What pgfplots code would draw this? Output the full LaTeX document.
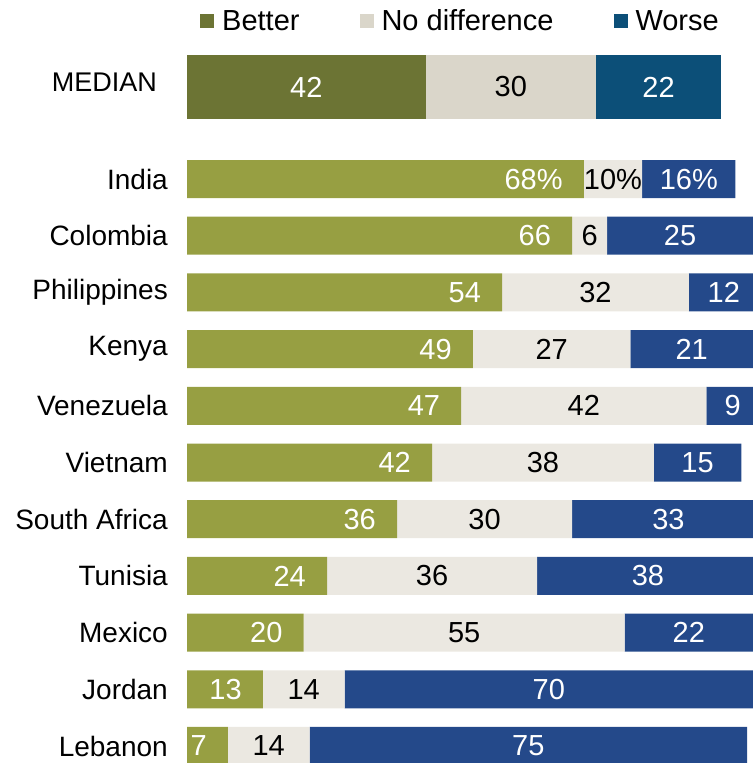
\documentclass[border=0pt]{standalone}
\usepackage{fontspec}
\setmainfont{Liberation Sans}
\usepackage{pgfplots}
\usepackage{pgfplotstable}
\pgfplotsset{compat=1.18}

\definecolor{cgreen}{HTML}{979F42}
\definecolor{cgray}{HTML}{EBE8E1}
\definecolor{cblue}{HTML}{24498A}
\definecolor{mgreen}{HTML}{6C7434}
\definecolor{mgray}{HTML}{DAD6CA}
\definecolor{mblue}{HTML}{0C4F78}

\pgfplotstableread{
row b n w lb ln lw
0 68 10 16 68\% 10\% 16\%
1 66 6 25 66 6 25
2 54 32 12 54 32 12
3 49 27 21 49 27 21
4 47 42 9 47 42 9
5 42 38 15 42 38 15
6 36 30 33 36 30 33
7 24 36 38 24 36 38
8 20 55 22 20 55 22
9 13 14 70 13 14 70
10 7 14 75 7 14 75
}\countries

\pgfplotstableread{
row b n w
0 42 30 22
}\median

\pgfplotsset{
  barbase/.style={scale only axis, axis line style={draw=none}, major tick length=0pt,
    xtick=\empty, xmin=0, font=\fontsize{28}{34}\selectfont},
  mainaxis/.style={barbase, at={(187pt,0pt)}, anchor=south west, width=566pt, height=618pt,
    xmax=97, ymin=-0.6, ymax=10.3, y dir=reverse},
  medaxis/.style={barbase, at={(187pt,644pt)}, anchor=south west, width=534pt, height=64pt,
    xmax=94, ymin=-0.5, ymax=0.5},
  lab/.style={draw=none, mark=none, nodes near coords, point meta=explicit symbolic,
    every node near coord/.append style={inner sep=0pt, font=\fontsize{29}{34}\selectfont, #1}},
}

\begin{document}
\begin{tikzpicture}
\path[use as bounding box] (0,0) rectangle (753pt,763pt);

% country bars
\begin{axis}[mainaxis, xbar stacked, bar width=38pt,
  ytick={0,...,10},
  yticklabels={India,Colombia,Philippines,Kenya,Venezuela,Vietnam,South Africa,Tunisia,Mexico,Jordan,Lebanon},
  yticklabel style={inner sep=0pt, xshift=-19pt}]
\addplot[fill=cgreen, draw=none] table[x=b, y=row] {\countries};
\addplot[fill=cgray, draw=none] table[x=n, y=row] {\countries};
\addplot[fill=cblue, draw=none] table[x=w, y=row] {\countries};
\end{axis}

% country value labels
\begin{axis}[mainaxis, ytick=\empty, clip=false]
\addplot[lab={anchor=east, xshift=-21pt, text=white}] table[x=b, y=row, meta=lb] {\countries};
\addplot[lab={anchor=center, text=black}] table[x expr=\thisrow{b}+0.5*\thisrow{n}, y=row, meta=ln] {\countries};
\addplot[lab={anchor=center, text=white}] table[x expr=\thisrow{b}+\thisrow{n}+0.5*\thisrow{w}, y=row, meta=lw] {\countries};
\end{axis}

% median bar with legend
\begin{axis}[medaxis, xbar stacked, bar width=64pt,
  ytick={0}, yticklabels={MEDIAN},
  yticklabel style={inner sep=0pt, xshift=-30pt, yshift=5pt, font=\fontsize{27}{32}\selectfont},
  legend columns=3,
  legend image code/.code={\draw[#1,/tikz/.cd,draw=none] (0pt,-7pt) rectangle (14pt,7pt);},
  legend style={at={(0.0243,1.531)}, anchor=west, draw=none, fill=none, inner sep=0pt,
    nodes={inner sep=0pt},
    /tikz/every odd column/.append style={column sep=8pt},
    /tikz/every even column/.append style={column sep=60pt},
    font=\fontsize{29}{34}\selectfont}]
\addplot[fill=mgreen, draw=none] table[x=b, y=row] {\median};
\addplot[fill=mgray, draw=none] table[x=n, y=row] {\median};
\addplot[fill=mblue, draw=none] table[x=w, y=row] {\median};
\legend{Better, No difference, Worse}
\end{axis}

% median value labels
\begin{axis}[medaxis, ytick=\empty, clip=false]
\addplot[lab={anchor=center, text=white}] table[x expr=0.5*\thisrow{b}, y=row, meta=b] {\median};
\addplot[lab={anchor=center, text=black}] table[x expr=\thisrow{b}+0.5*\thisrow{n}, y=row, meta=n] {\median};
\addplot[lab={anchor=center, text=white}] table[x expr=\thisrow{b}+\thisrow{n}+0.5*\thisrow{w}, y=row, meta=w] {\median};
\end{axis}
\end{tikzpicture}
\end{document}
